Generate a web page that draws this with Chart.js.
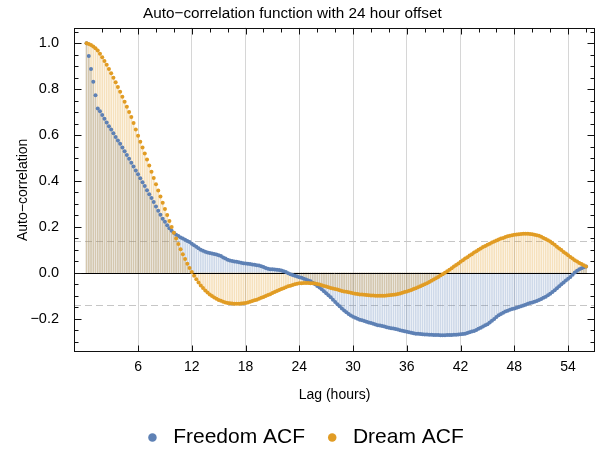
<!DOCTYPE html>
<html>
<head>
<meta charset="utf-8">
<script src="https://cdn.jsdelivr.net/npm/chart.js@4.4.0/dist/chart.umd.min.js"></script>
<style>
  html, body { margin: 0; padding: 0; background: #fff; }
  canvas { display: block; }
</style>
</head>
<body>
<canvas id="acfChart" width="599" height="450"></canvas>
<script>
// lags are 15 minute steps, first lag plotted at 0.25 h
const LAG_STEP = 0.25;

const freedomAcf = [
  1.000, 0.945, 0.888, 0.832, 0.774, 0.716, 0.704, 0.687,
  0.671, 0.655, 0.639, 0.624, 0.608, 0.592, 0.576, 0.562,
  0.546, 0.530, 0.513, 0.497, 0.480, 0.463, 0.446, 0.429,
  0.412, 0.395, 0.378, 0.360, 0.342, 0.326, 0.308, 0.289,
  0.270, 0.253, 0.236, 0.222, 0.207, 0.194, 0.183, 0.174,
  0.166, 0.160, 0.154, 0.149, 0.144, 0.139, 0.134, 0.127,
  0.120, 0.113, 0.107, 0.101, 0.096, 0.092, 0.089, 0.086,
  0.084, 0.082, 0.080, 0.077, 0.073, 0.067, 0.062, 0.057,
  0.054, 0.051, 0.049, 0.048, 0.046, 0.044, 0.042, 0.041,
  0.040, 0.038, 0.036, 0.035, 0.033, 0.032, 0.029, 0.025,
  0.021, 0.018, 0.016, 0.015, 0.014, 0.013, 0.012, 0.010,
  0.007, 0.003, -0.002, -0.006, -0.010, -0.013, -0.016, -0.019,
  -0.022, -0.026, -0.029, -0.033, -0.037, -0.043, -0.050, -0.057,
  -0.064, -0.072, -0.080, -0.089, -0.098, -0.107, -0.117, -0.127,
  -0.137, -0.146, -0.155, -0.164, -0.172, -0.179, -0.186, -0.191,
  -0.196, -0.200, -0.204, -0.207, -0.210, -0.213, -0.216, -0.219,
  -0.222, -0.225, -0.228, -0.230, -0.232, -0.234, -0.237, -0.239,
  -0.241, -0.243, -0.245, -0.247, -0.250, -0.252, -0.255, -0.257,
  -0.259, -0.261, -0.263, -0.265, -0.266, -0.267, -0.268, -0.269,
  -0.269, -0.270, -0.270, -0.271, -0.271, -0.271, -0.272, -0.272,
  -0.272, -0.271, -0.271, -0.271, -0.270, -0.270, -0.269, -0.268,
  -0.267, -0.265, -0.262, -0.259, -0.256, -0.253, -0.249, -0.244,
  -0.239, -0.234, -0.229, -0.224, -0.217, -0.209, -0.201, -0.193,
  -0.185, -0.179, -0.174, -0.169, -0.165, -0.161, -0.158, -0.155,
  -0.152, -0.149, -0.146, -0.142, -0.139, -0.135, -0.132, -0.129,
  -0.126, -0.123, -0.119, -0.114, -0.109, -0.104, -0.098, -0.091,
  -0.084, -0.076, -0.067, -0.059, -0.050, -0.042, -0.034, -0.026,
  -0.018, -0.009, 0.001, 0.009, 0.015, 0.020, 0.024, 0.028
];

const dreamAcf = [
  1.000, 0.997, 0.993, 0.986, 0.978, 0.968, 0.954, 0.939,
  0.923, 0.906, 0.888, 0.869, 0.850, 0.830, 0.810, 0.789,
  0.767, 0.745, 0.723, 0.701, 0.679, 0.653, 0.624, 0.597,
  0.571, 0.546, 0.520, 0.494, 0.467, 0.440, 0.413, 0.386,
  0.359, 0.332, 0.305, 0.278, 0.252, 0.226, 0.200, 0.175,
  0.150, 0.126, 0.103, 0.081, 0.060, 0.040, 0.021, 0.003,
  -0.013, -0.028, -0.042, -0.055, -0.066, -0.077, -0.086, -0.094,
  -0.101, -0.108, -0.113, -0.118, -0.122, -0.126, -0.129, -0.131,
  -0.133, -0.134, -0.135, -0.135, -0.135, -0.134, -0.133, -0.131,
  -0.129, -0.126, -0.123, -0.120, -0.117, -0.113, -0.109, -0.105,
  -0.101, -0.097, -0.093, -0.088, -0.084, -0.079, -0.075, -0.071,
  -0.067, -0.063, -0.059, -0.056, -0.053, -0.050, -0.048, -0.046,
  -0.045, -0.044, -0.044, -0.044, -0.045, -0.046, -0.047, -0.049,
  -0.051, -0.054, -0.057, -0.060, -0.063, -0.066, -0.068, -0.071,
  -0.073, -0.076, -0.079, -0.081, -0.083, -0.085, -0.087, -0.089,
  -0.091, -0.092, -0.094, -0.095, -0.096, -0.097, -0.098, -0.099,
  -0.099, -0.100, -0.100, -0.100, -0.100, -0.100, -0.099, -0.098,
  -0.097, -0.096, -0.094, -0.092, -0.090, -0.087, -0.084, -0.081,
  -0.078, -0.075, -0.071, -0.067, -0.063, -0.059, -0.054, -0.050,
  -0.045, -0.040, -0.035, -0.029, -0.024, -0.018, -0.012, -0.006,
  0.000, 0.007, 0.013, 0.020, 0.027, 0.034, 0.041, 0.048,
  0.055, 0.062, 0.068, 0.075, 0.081, 0.088, 0.094, 0.100,
  0.106, 0.112, 0.117, 0.122, 0.127, 0.132, 0.136, 0.141,
  0.145, 0.149, 0.152, 0.156, 0.159, 0.161, 0.164, 0.166,
  0.167, 0.168, 0.169, 0.170, 0.170, 0.170, 0.169, 0.168,
  0.166, 0.164, 0.161, 0.157, 0.152, 0.147, 0.142, 0.136,
  0.129, 0.122, 0.114, 0.106, 0.099, 0.091, 0.084, 0.076,
  0.069, 0.062, 0.055, 0.049, 0.043, 0.038, 0.033, 0.028
];

const xTicks = [6, 12, 18, 24, 30, 36, 42, 48, 54];
const xMinorTicks = [2, 4, 8, 10, 14, 16, 20, 22, 26, 28, 32, 34, 38, 40, 44, 46, 50, 52, 56];
const yTicks = [-0.2, 0, 0.2, 0.4, 0.6, 0.8, 1.0];
const yMinorTicks = [-0.3, -0.25, -0.15, -0.1, -0.05, 0.05, 0.1, 0.15, 0.25, 0.3, 0.35,
  0.45, 0.5, 0.55, 0.65, 0.7, 0.75, 0.85, 0.9, 0.95, 1.05];
const confBand = 0.14;

const BLUE = '#5E81B5';
const ORANGE = '#E19C24';
const FONT = 'Liberation Sans, Arial, sans-serif';

const toPoints = vals => vals.map((v, i) => ({ x: (i + 1) * LAG_STEP, y: v }));
const freedomPts = toPoints(freedomAcf);
const dreamPts = toPoints(dreamAcf);

const minusFmt = v => (v < 0 ? '\u2212' + Math.abs(v).toFixed(1) : v.toFixed(1));

// frame, inward ticks, zero axis and dashed band
const framePlugin = {
    id: 'frame',
    beforeDatasetsDraw(chart) {
        const { ctx, chartArea: a, scales: { y } } = chart;
        ctx.save();
        ctx.strokeStyle = '#c6c6c6';
        ctx.lineWidth = 1;
        ctx.setLineDash([7, 4]);
        [confBand, -confBand].forEach(v => {
            const py = Math.round(y.getPixelForValue(v)) + 0.5;
            ctx.beginPath();
            ctx.moveTo(a.left, py);
            ctx.lineTo(a.right, py);
            ctx.stroke();
        });
        ctx.restore();
    },
    afterDatasetDraw(chart, args) {
        if (args.index !== 3) return;
        const { ctx, chartArea: a, scales: { y } } = chart;
        const py = Math.round(y.getPixelForValue(0)) + 0.5;
        ctx.save();
        ctx.strokeStyle = '#000';
        ctx.lineWidth = 1;
        ctx.beginPath();
        ctx.moveTo(a.left, py);
        ctx.lineTo(a.right, py);
        ctx.stroke();
        ctx.restore();
    },
    afterDraw(chart) {
        const { ctx, chartArea: a, scales: { x, y } } = chart;
        const L = Math.round(a.left) + 0.5, R = Math.round(a.right) - 0.5;
        const T = Math.round(a.top) + 0.5, B = Math.round(a.bottom) - 0.5;
        ctx.save();
        ctx.strokeStyle = '#111';
        ctx.lineWidth = 1;
        ctx.strokeRect(L, T, R - L, B - T);
        ctx.beginPath();
        xTicks.forEach(v => {
            const px = Math.round(x.getPixelForValue(v)) + 0.5;
            ctx.moveTo(px, B); ctx.lineTo(px, B - 6);
            ctx.moveTo(px, T); ctx.lineTo(px, T + 6);
        });
        xMinorTicks.forEach(v => {
            const px = Math.round(x.getPixelForValue(v)) + 0.5;
            ctx.moveTo(px, T); ctx.lineTo(px, T + 4);
        });
        yTicks.forEach(v => {
            const py = Math.round(y.getPixelForValue(v)) + 0.5;
            ctx.moveTo(L, py); ctx.lineTo(L + 7, py);
            ctx.moveTo(R, py); ctx.lineTo(R - 7, py);
        });
        yMinorTicks.forEach(v => {
            const py = Math.round(y.getPixelForValue(v)) + 0.5;
            ctx.moveTo(L, py); ctx.lineTo(L + 4, py);
            ctx.moveTo(R, py); ctx.lineTo(R - 4, py);
        });
        ctx.stroke();
        ctx.restore();
    }
};

const ctx = document.getElementById('acfChart').getContext('2d');
new Chart(ctx, {
    type: 'scatter',
    data: {
        datasets: [
            {
                label: 'Freedom ACF', data: freedomPts, order: 1,
                backgroundColor: BLUE, borderColor: BLUE, borderWidth: 0,
                pointRadius: 2, pointBorderWidth: 0, pointBackgroundColor: BLUE
            },
            {
                label: 'Dream ACF', data: dreamPts, order: 0,
                backgroundColor: ORANGE, borderColor: ORANGE, borderWidth: 0,
                pointRadius: 2, pointBorderWidth: 0, pointBackgroundColor: ORANGE
            },
            {
                type: 'bar', label: 'freedom stems', data: freedomPts, order: 3,
                backgroundColor: 'rgba(94,129,181,0.3)', borderWidth: 0,
                barThickness: 1, grouped: false
            },
            {
                type: 'bar', label: 'dream stems', data: dreamPts, order: 2,
                backgroundColor: 'rgba(225,156,36,0.3)', borderWidth: 0,
                barThickness: 1, grouped: false
            }
        ]
    },
    options: {
        responsive: false,
        animation: false,
        events: [],
        layout: { padding: { left: 9, right: 2, top: 0, bottom: -8 } },
        scales: {
            x: {
                type: 'linear', min: -1.15, max: 57, offset: false,
                afterBuildTicks: s => { s.ticks = xTicks.map(v => ({ value: v })); },
                afterFit: s => { s.height = 58; },
                grid: { display: true, drawTicks: false, color: '#d6d6d6', lineWidth: 1, offset: false },
                border: { display: false },
                ticks: {
                    padding: 7, color: '#000', maxRotation: 0, autoSkip: false,
                    font: { family: FONT, size: 14 },
                    callback: v => String(v)
                },
                title: {
                    display: true, text: 'Lag (hours)', color: '#000',
                    font: { family: FONT, size: 14 },
                    padding: { top: 0, bottom: 6.6 }
                }
            },
            y: {
                type: 'linear', min: -0.345, max: 1.068,
                afterBuildTicks: s => { s.ticks = yTicks.map(v => ({ value: v })); },
                afterFit: s => { s.width = 65; },
                grid: { display: false },
                border: { display: false },
                ticks: {
                    padding: 7, color: '#000',
                    font: { family: FONT, size: 14.5 },
                    callback: v => minusFmt(v)
                },
                title: {
                    display: true, text: 'Auto\u2212correlation', color: '#000',
                    font: { family: FONT, size: 14 },
                    padding: { top: 5.3, bottom: 0 }
                }
            }
        },
        plugins: {
            title: {
                display: true,
                // trailing spaces nudge the centred title a little to the left
                text: 'Auto\u2212correlation function with 24 hour offset     ',
                color: '#000',
                font: { family: FONT, size: 15.3, weight: 'normal' },
                padding: { top: 4.3, bottom: 5 }
            },
            legend: {
                position: 'bottom',
                labels: {
                    usePointStyle: true, pointStyle: 'circle',
                    boxWidth: 20.4, boxHeight: 6, padding: 17,
                    color: '#000', font: { family: FONT, size: 21 },
                    filter: item => item.datasetIndex < 2,
                    sort: (a, b) => a.datasetIndex - b.datasetIndex
                }
            },
            tooltip: { enabled: false }
        }
    },
    plugins: [framePlugin]
});
</script>
</body>
</html>
